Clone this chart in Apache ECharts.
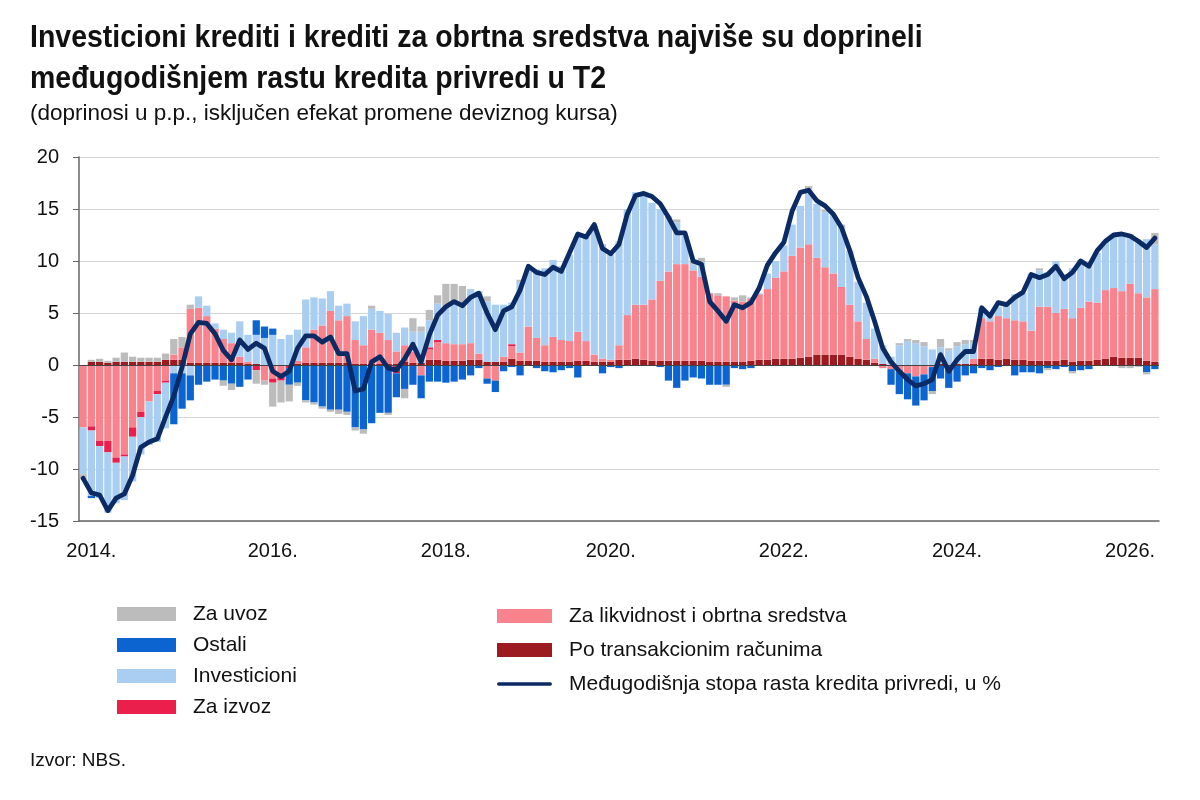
<!DOCTYPE html>
<html>
<head>
<meta charset="utf-8">
<script src="https://cdn.jsdelivr.net/npm/echarts@6/dist/echarts.min.js"></script>
<style>
  html, body { margin: 0; padding: 0; background: #fff; }
  #chart { width: 1200px; height: 800px; }
</style>
</head>
<body>
<div id="chart"></div>
<script>
// x axis tick labels and the bar index they sit under
const tickPos = [1, 23, 44, 64, 85, 106, 127];
const tickLabels = ['2014.', '2016.', '2018.', '2020.', '2022.', '2024.', '2026.'];

// contributions in p.p., one value per bar
const transakcioni = [
  0, 0.3, 0.3, 0.2, 0.3, 0.3, 0.3, 0.3, 0.3, 0.3,
  0.5, 0.5, 0.5, 0.2, 0.2, 0.2, 0.2, 0.2, 0.2, 0.2,
  0.1, 0.1, 0, 0, 0, 0, 0.1, 0.2, 0.2, 0.2,
  0.2, 0.2, 0.2, 0.1, 0.1, 0.1, 0.1, 0.1, 0.1, 0.3,
  0.2, 0.2, 0.5, 0.5, 0.4, 0.4, 0.4, 0.5, 0.5, 0.3,
  0.3, 0.3, 0.6, 0.4, 0.4, 0.4, 0.3, 0.3, 0.3, 0.3,
  0.4, 0.4, 0.3, 0.3, 0.3, 0.5, 0.5, 0.6, 0.5, 0.4,
  0.4, 0.4, 0.4, 0.4, 0.4, 0.4, 0.3, 0.3, 0.3, 0.3,
  0.3, 0.4, 0.5, 0.5, 0.6, 0.6, 0.6, 0.7, 0.8, 1.0,
  1.0, 1.0, 1.0, 0.8, 0.6, 0.5, 0.2, 0.1, 0, 0,
  0, 0, 0, 0, 0.1, 0, 0.1, 0.1, 0.1, 0.6,
  0.6, 0.5, 0.6, 0.5, 0.5, 0.4, 0.4, 0.4, 0.4, 0.5,
  0.3, 0.4, 0.4, 0.5, 0.6, 0.8, 0.7, 0.7, 0.7, 0.4,
  0.3
];
const likvidnost = [
  -6.0, -5.9, -7.3, -7.3, -8.9, -8.6, -6.0, -4.5, -3.5, -2.5,
  -1.5, 0.5, 1.2, 5.2, 5.3, 4.5, 3.3, 2.3, 1.9, 0.6,
  0.2, 0, -1.5, -1.3, -0.8, 0, 0.3, 1.5, 3.2, 3.6,
  5.0, 4.1, 4.5, 2.3, 1.8, 3.3, 3.0, 2.3, 1.2, 1.6,
  1.1, -1.0, 1.0, 1.7, 1.7, 1.6, 1.6, 1.6, 0.6, -1.3,
  -1.5, 0.5, 1.2, 0.8, 3.3, 2.2, 1.6, 2.4, 2.1, 2.0,
  2.8, 1.9, 0.7, 0.3, 0.2, 1.4, 4.3, 5.2, 5.3, 5.9,
  7.7, 8.6, 9.3, 9.3, 8.7, 8.1, 6.6, 6.4, 6.3, 5.9,
  5.8, 6.0, 6.3, 6.8, 7.8, 8.4, 9.9, 10.6, 10.8, 9.3,
  8.4, 7.8, 6.5, 5.0, 3.6, 2.0, 0.4, -0.3, -0.4, -0.6,
  -0.8, -1.1, -0.9, -0.2, 0, -0.3, 0, 0, 0.5, 3.9,
  3.6, 4.2, 3.9, 3.8, 3.7, 2.9, 5.2, 5.2, 4.6, 4.9,
  4.2, 5.1, 5.7, 5.5, 6.6, 6.6, 6.4, 7.1, 6.2, 6.1,
  7.0
];
const izvoz = [
  0, -0.4, -0.5, -1.1, -0.5, -0.2, -0.9, -0.5, 0, -0.3,
  -0.2, 0, 0, 0, 0, 0, 0, 0, 0, 0,
  0, -0.5, 0, -0.4, -0.7, -0.3, 0, 0, 0, 0,
  0, 0, 0, 0, 0, 0, 0, 0, -0.8, 0,
  0, 0, 0.2, 0.2, 0, 0, 0, 0, 0, 0,
  0, 0, 0.2, 0, 0, 0, 0, 0, 0, 0,
  0, 0, 0, 0, 0, 0, 0, 0, 0, 0,
  0, 0, 0, 0, 0, 0, 0, 0, 0, 0,
  0, 0, 0, 0, 0, 0, 0, 0, 0, 0,
  0, 0, 0, 0, 0, 0, 0, 0, 0, 0,
  0, 0, 0, 0, 0, 0, 0, 0, 0, 0,
  0, 0, 0, 0, 0, 0, 0, 0, 0, 0,
  0, 0, 0, 0, 0, 0, 0, 0, 0, 0,
  0
];
const investicioni = [
  -4.5, -6.3, -5.0, -5.8, -3.9, -4.2, -4.3, -3.6, -4.2, -4.6,
  -4.4, -0.8, -0.8, -1.0, 1.1, 1.0, 0.5, 0.9, 1.0, 3.4,
  2.6, 2.8, 2.6, 2.9, 2.5, 2.9, 3.0, 4.6, 3.1, 2.6,
  1.9, 1.4, 1.2, 1.8, 2.8, 2.0, 2.1, 2.5, 1.8, 1.7,
  1.9, 3.0, 2.6, 3.5, 3.5, 3.9, 3.6, 5.2, 6.0, 5.8,
  5.5, 5.0, 4.0, 6.8, 5.5, 6.6, 7.4, 7.4, 7.1, 8.3,
  9.2, 10.0, 12.4, 11.0, 10.1, 10.0, 10.2, 10.8, 10.7, 9.3,
  6.9, 5.0, 4.0, 2.7, 0.6, 1.4, 0, 0, 0, 0,
  0, 0, 0.1, 1.5, 1.6, 2.5, 3.0, 4.0, 5.3, 5.2,
  5.3, 5.6, 5.7, 5.2, 3.8, 3.5, 2.9, 1.8, 0.8, 1.9,
  2.3, 2.1, 1.8, 1.5, 1.6, 1.4, 1.7, 1.9, 1.6, 1.0,
  0.6, 0.9, 1.3, 2.5, 2.7, 5.5, 3.5, 3.3, 5.0, 3.3,
  4.8, 4.6, 3.6, 4.8, 4.7, 5.0, 5.4, 4.8, 4.9, 5.6,
  4.3
];
const ostali = [
  0, -0.2, 0, 0, 0, 0, 0, 0, 0, 0,
  0, -4.9, -3.4, -2.4, -1.9, -1.6, -1.4, -1.5, -1.8, -2.1,
  -1.4, 1.4, 1.1, 0.6, 0, -1.6, -1.7, -3.4, -3.6, -4.0,
  -4.3, -4.3, -4.5, -6.0, -6.2, -5.6, -4.6, -4.6, -2.3, -2.3,
  -1.9, -2.2, -1.6, -1.6, -1.7, -1.6, -1.4, -1.0, -0.3, -0.5,
  -1.1, -0.6, -0.2, -1.0, 0, -0.3, -0.6, -0.7, -0.5, -0.3,
  -1.2, 0, 0, -0.8, -0.2, -0.3, 0, 0, 0, -0.1,
  -0.2, -1.5, -2.2, -1.5, -1.2, -1.3, -1.9, -1.9, -1.9, -0.3,
  -0.4, -0.3, 0, 0, 0, 0, 0, 0, 0, 0,
  0, 0, 0, 0, 0, 0, 0, 0, -1.5, -2.2,
  -2.5, -2.8, -2.5, -2.3, -1.3, -1.9, -1.6, -1.0, -0.8, -0.3,
  -0.5, -0.2, 0, -1.0, -0.7, -0.7, -0.8, -0.3, -0.4, -0.2,
  -0.6, -0.5, -0.4, 0, 0, 0, 0, 0, 0, -0.7,
  -0.4
];
const uvoz = [
  -0.5, 0.2, 0.3, 0.2, 0.4, 0.9, 0.5, 0.4, 0.4, 0.4,
  0.6, 1.5, 1.0, 0.4, 0, 0, 0, -0.5, -0.6, 0,
  0, -1.3, -0.4, -2.3, -2.1, -1.6, -0.3, -0.2, -0.2, -0.2,
  -0.2, -0.4, -0.3, -0.3, -0.4, 0.3, 0, -0.2, 0, -0.9,
  1.3, 0.5, 1.0, 0.8, 2.2, 1.9, 2.0, 0, 0, 0.5,
  0, 0, 0, 0.2, 0, 0, 0, 0, 0, 0,
  0, 0, 0, 0, 0, 0, 0, 0, 0, 0,
  0, 0.3, 0.3, 0, 0.3, 0.4, 0, 0.2, -0.2, 0.3,
  0.6, 0.1, 0, 0, 0, 0, 0, 0, 0.3, 0,
  0.2, 0, 0.3, 0, 0, 0, 0, 0, 0, 0.2,
  0.2, 0.3, 0.4, -0.3, 0.8, 0.2, 0.4, 0.4, 0.2, 0,
  0, 0, 0, 0, 0, 0, 0.2, -0.2, 0, 0,
  -0.2, 0, 0, 0, 0, 0, -0.3, -0.3, -0.2, -0.2,
  1.1
];
// y-o-y growth of corporate loans, %
const stopaRasta = [
  -10.9, -12.3, -12.5, -14.0, -12.8, -12.4, -10.6, -7.9, -7.4, -7.1,
  -5.0, -3.0, -0.2, 3.0, 4.1, 4.0, 3.0, 1.4, 0.5, 2.4,
  1.5, 2.1, 1.6, -0.6, -1.1, -0.6, 1.6, 2.8, 2.8, 2.2,
  2.7, 1.1, 1.1, -2.5, -2.3, 0.3, 0.8, -0.3, -0.5, 0.6,
  2.0, 0.3, 2.9, 4.8, 5.6, 6.1, 5.7, 6.5, 6.9, 5.0,
  3.4, 5.2, 5.6, 7.2, 9.5, 8.9, 8.7, 9.4, 9.0, 10.8,
  12.6, 12.3, 13.5, 11.2, 10.7, 11.6, 14.5, 16.3, 16.5, 16.2,
  15.5, 14.2, 12.7, 12.7, 10.0, 9.7, 6.1, 5.2, 4.2, 5.8,
  5.5, 6.0, 7.4, 9.6, 10.8, 11.8, 14.8, 16.6, 16.8, 15.8,
  15.3, 14.5, 13.2, 11.0, 8.4, 6.6, 4.2, 1.6, 0.3, -0.6,
  -1.4, -2.0, -1.8, -1.4, 1.0, -0.6, 0.5, 1.3, 1.3, 5.5,
  4.7, 6.0, 5.8, 6.5, 7.0, 8.7, 8.4, 8.7, 9.5, 8.3,
  8.9, 10.0, 9.5, 11.0, 11.9, 12.5, 12.6, 12.4, 11.9, 11.3,
  12.2
];

const categories = stopaRasta.map((_, i) => String(i));

const FONT = '"Liberation Sans", Arial, sans-serif';

const chart = echarts.init(document.getElementById('chart'));

function barSeries(name, data, color) {
  return {
    name: name,
    type: 'bar',
    stack: 'doprinosi',
    data: data,
    barCategoryGap: '12%',
    itemStyle: { color: color },
    emphasis: { disabled: true }
  };
}

const lineName = 'Međugodišnja stopa rasta kredita privredi, u %';

const legendText = { fontFamily: FONT, fontSize: 21, color: '#111', lineHeight: 22, padding: [0, 0, 0, 12] };

const option = {
  animation: false,
  backgroundColor: '#ffffff',
  // title is condensed bold in the original, so squeeze it horizontally
  graphic: [
    {
      type: 'text',
      x: 30,
      y: 18,
      scaleX: 0.89,
      style: {
        text: 'Investicioni krediti i krediti za obrtna sredstva najviše su doprineli\nmeđugodišnjem rastu kredita privredi u T2',
        fontFamily: FONT,
        fontSize: 32,
        fontWeight: 'bold',
        lineHeight: 41,
        fill: '#111',
        verticalAlign: 'top'
      }
    }
  ],
  title: [
    {
      text: '(doprinosi u p.p., isključen efekat promene deviznog kursa)',
      left: 30,
      top: 102,
      padding: 0,
      textStyle: { fontFamily: FONT, fontSize: 22.5, fontWeight: 'normal', color: '#111' }
    },
    {
      text: 'Izvor: NBS.',
      left: 30,
      top: 751,
      padding: 0,
      textStyle: { fontFamily: FONT, fontSize: 19, fontWeight: 'normal', color: '#111' }
    }
  ],
  legend: [
    {
      orient: 'vertical',
      left: 117,
      top: 603,
      padding: 0,
      itemWidth: 59,
      itemHeight: 14,
      itemGap: 9,
      icon: 'rect',
      selectedMode: false,
      textStyle: legendText,
      data: ['Za uvoz', 'Ostali', 'Investicioni', 'Za izvoz']
    },
    {
      orient: 'vertical',
      left: 497,
      top: 605,
      padding: 0,
      itemWidth: 55,
      itemHeight: 14,
      itemGap: 12,
      icon: 'rect',
      selectedMode: false,
      textStyle: legendText,
      data: [
        'Za likvidnost i obrtna sredstva',
        'Po transakcionim računima',
        { name: lineName, icon: 'path://M2,0 L58,0 A2,2 0 0 1 58,4 L2,4 A2,2 0 0 1 2,0 Z' }
      ]
    }
  ],
  grid: { left: 79, right: 41, top: 157, bottom: 279 },
  xAxis: {
    type: 'category',
    data: categories,
    boundaryGap: true,
    axisLine: { onZero: false, lineStyle: { color: '#666', width: 1.5 } },
    axisTick: { show: false },
    axisLabel: {
      interval: (idx) => tickPos.indexOf(idx) >= 0,
      formatter: (v, idx) => tickLabels[tickPos.indexOf(idx)] || '',
      fontFamily: FONT,
      fontSize: 20,
      color: '#111',
      margin: 20
    },
    splitLine: { show: false }
  },
  yAxis: {
    type: 'value',
    min: -15,
    max: 20,
    interval: 5,
    axisLine: { show: true, lineStyle: { color: '#666', width: 1.5 } },
    axisTick: { show: true, length: 6, lineStyle: { color: '#666' } },
    axisLabel: { fontFamily: FONT, fontSize: 20, color: '#111', margin: 20 },
    splitLine: { lineStyle: { color: '#d4d4d4', width: 1 } }
  },
  series: [
    barSeries('Po transakcionim računima', transakcioni, '#9b1b20'),
    barSeries('Za likvidnost i obrtna sredstva', likvidnost, '#f8838d'),
    barSeries('Za izvoz', izvoz, '#eb1f4b'),
    barSeries('Investicioni', investicioni, '#aacef1'),
    barSeries('Ostali', ostali, '#0b64d0'),
    barSeries('Za uvoz', uvoz, '#bcbcbc'),
    {
      name: lineName,
      type: 'line',
      data: stopaRasta,
      z: 5,
      symbol: 'none',
      showSymbol: false,
      itemStyle: { color: '#0c2a63' },
      lineStyle: { color: '#0c2a63', width: 4.8, join: 'round', cap: 'round' },
      emphasis: { disabled: true },
      markLine: {
        silent: true,
        symbol: 'none',
        label: { show: false },
        lineStyle: { color: '#444', width: 1, type: 'solid' },
        data: [{ yAxis: 0 }]
      }
    }
  ]
};

chart.setOption(option);
</script>
</body>
</html>
